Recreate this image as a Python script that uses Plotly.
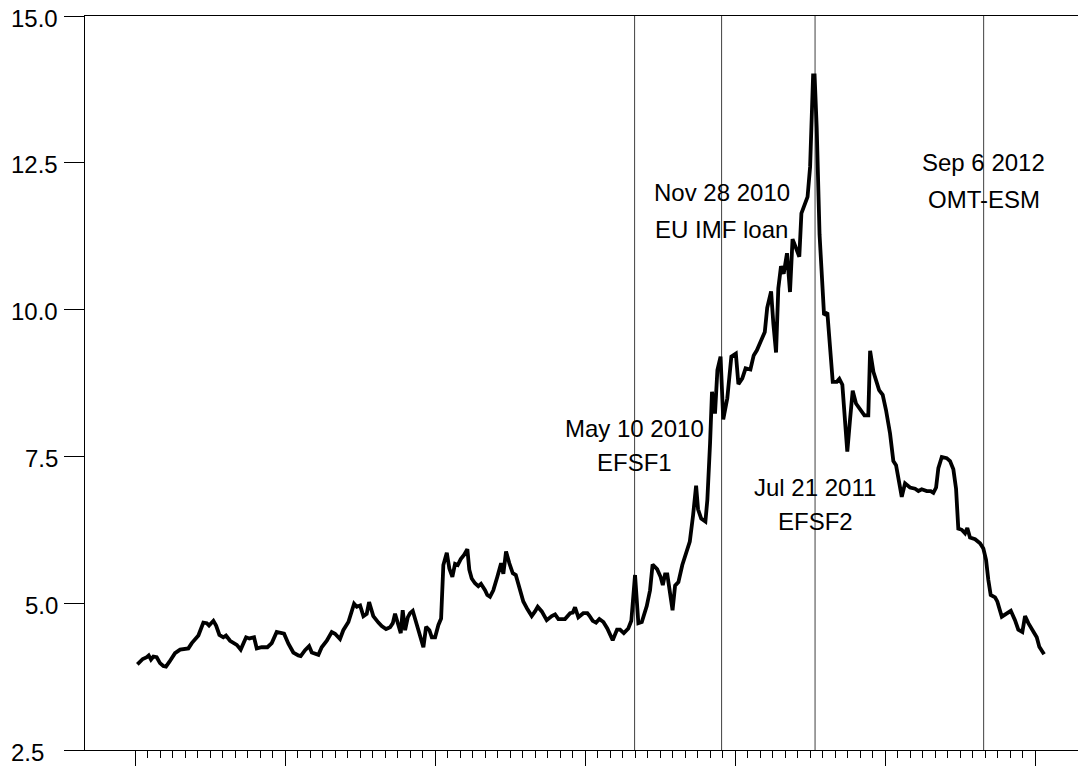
"""
plot.py
Irish 10-year government bond yield with the main euro-area rescue events.
"""

import plotly.graph_objects as go

# ─────────────────────────────────────────
# data (decimal years, yield in %)
# ─────────────────────────────────────────

YEARS = [
    2007.038, 2007.074, 2007.101, 2007.114, 2007.129, 2007.145, 2007.167, 2007.189, 2007.211, 2007.229,
    2007.251, 2007.289, 2007.323, 2007.356, 2007.378, 2007.401, 2007.445, 2007.478, 2007.501, 2007.516,
    2007.545, 2007.563, 2007.585, 2007.611, 2007.629, 2007.656, 2007.701, 2007.727, 2007.763, 2007.785,
    2007.816, 2007.834, 2007.867, 2007.905, 2007.934, 2007.967, 2007.994, 2008.016, 2008.045, 2008.078,
    2008.111, 2008.127, 2008.156, 2008.183, 2008.201, 2008.245, 2008.267, 2008.301, 2008.334, 2008.356,
    2008.389, 2008.411, 2008.445, 2008.483, 2008.501, 2008.523, 2008.545, 2008.567, 2008.583, 2008.611,
    2008.645, 2008.667, 2008.696, 2008.723, 2008.741, 2008.756, 2008.778, 2008.794, 2008.807, 2008.823,
    2008.841, 2008.856, 2008.874, 2008.896, 2008.923, 2008.945, 2008.963, 2008.985, 2009.001, 2009.023,
    2009.045, 2009.063, 2009.078, 2009.101, 2009.118, 2009.138, 2009.156, 2009.174, 2009.194, 2009.216,
    2009.238, 2009.251, 2009.267, 2009.289, 2009.311, 2009.329, 2009.356, 2009.371, 2009.389, 2009.411,
    2009.438, 2009.463, 2009.478, 2009.496, 2009.518, 2009.541, 2009.561, 2009.589, 2009.611, 2009.638,
    2009.667, 2009.689, 2009.707, 2009.734, 2009.767, 2009.801, 2009.823, 2009.845, 2009.889, 2009.923,
    2009.941, 2009.956, 2009.978, 2010.011, 2010.038, 2010.051, 2010.074, 2010.096, 2010.118, 2010.145,
    2010.171, 2010.207, 2010.236, 2010.256, 2010.281, 2010.311, 2010.331, 2010.356, 2010.378, 2010.401,
    2010.434, 2010.456, 2010.473, 2010.503, 2010.526, 2010.541, 2010.556, 2010.571, 2010.589, 2010.606,
    2010.623, 2010.645, 2010.671, 2010.701, 2010.721, 2010.743, 2010.763, 2010.776, 2010.797, 2010.825,
    2010.838, 2010.856, 2010.869, 2010.889, 2010.905, 2010.926, 2010.944, 2010.971, 2010.998, 2011.028,
    2011.045, 2011.071, 2011.093, 2011.125, 2011.147, 2011.169, 2011.201, 2011.221, 2011.237, 2011.263,
    2011.278, 2011.296, 2011.311, 2011.329, 2011.347, 2011.369, 2011.389, 2011.406, 2011.429, 2011.451,
    2011.465, 2011.493, 2011.506, 2011.523, 2011.543, 2011.553, 2011.567, 2011.586, 2011.607, 2011.616,
    2011.638, 2011.656, 2011.674, 2011.701, 2011.718, 2011.738, 2011.751, 2011.771, 2011.789, 2011.807,
    2011.829, 2011.856, 2011.885, 2011.911, 2011.923, 2011.945, 2011.967, 2011.983, 2012.007, 2012.029,
    2012.056, 2012.078, 2012.096, 2012.111, 2012.134, 2012.156, 2012.189, 2012.223, 2012.245, 2012.267,
    2012.301, 2012.327, 2012.345, 2012.363, 2012.378, 2012.401, 2012.434, 2012.456, 2012.478, 2012.496,
    2012.511, 2012.534, 2012.556, 2012.571, 2012.589, 2012.623, 2012.656, 2012.678, 2012.696, 2012.711,
    2012.727, 2012.756, 2012.771, 2012.801, 2012.834, 2012.861, 2012.889, 2012.911, 2012.938, 2012.956,
    2012.978, 2013.007, 2013.034, 2013.051, 2013.083,
]

YIELDS = [
    3.96, 4.05, 4.08, 4.11, 4.04, 4.09, 4.08, 3.98, 3.93, 3.92,
    4.00, 4.15, 4.21, 4.22, 4.23, 4.32, 4.45, 4.67, 4.66, 4.62,
    4.70, 4.62, 4.46, 4.42, 4.45, 4.36, 4.29, 4.21, 4.42, 4.40,
    4.42, 4.23, 4.25, 4.25, 4.32, 4.51, 4.50, 4.48, 4.31, 4.16,
    4.11, 4.10, 4.20, 4.27, 4.16, 4.12, 4.25, 4.36, 4.51, 4.48,
    4.39, 4.54, 4.68, 4.99, 4.94, 4.96, 4.78, 4.82, 5.02, 4.78,
    4.67, 4.61, 4.56, 4.59, 4.66, 4.82, 4.63, 4.49, 4.88, 4.54,
    4.76, 4.83, 4.87, 4.66, 4.40, 4.25, 4.60, 4.54, 4.42, 4.42,
    4.63, 4.74, 5.65, 5.86, 5.59, 5.45, 5.67, 5.65, 5.75, 5.82,
    5.92, 5.57, 5.42, 5.34, 5.29, 5.33, 5.22, 5.14, 5.11, 5.22,
    5.45, 5.68, 5.50, 5.88, 5.68, 5.51, 5.48, 5.20, 5.03, 4.90,
    4.78, 4.86, 4.94, 4.86, 4.71, 4.78, 4.81, 4.73, 4.73, 4.83,
    4.84, 4.93, 4.76, 4.83, 4.83, 4.79, 4.70, 4.67, 4.73, 4.68,
    4.57, 4.37, 4.55, 4.55, 4.49, 4.57, 4.70, 5.48, 4.66, 4.68,
    4.95, 5.22, 5.66, 5.58, 5.45, 5.31, 5.49, 5.49, 5.17, 4.88,
    5.30, 5.36, 5.65, 5.90, 6.05, 6.50, 7.00, 6.60, 6.44, 6.39,
    6.76, 7.72, 8.60, 8.23, 8.97, 9.20, 8.13, 8.49, 9.20, 9.25,
    8.73, 8.83, 9.00, 8.98, 9.22, 9.31, 9.52, 9.62, 10.03, 10.31,
    9.76, 9.27, 10.36, 10.74, 10.61, 10.96, 10.30, 11.20, 11.05, 10.90,
    11.64, 11.86, 11.92, 12.43, 13.99, 13.99, 13.10, 11.28, 10.16, 9.91,
    9.95, 9.37, 8.77, 8.77, 8.82, 8.72, 8.29, 7.58, 8.12, 8.62,
    8.40, 8.29, 8.20, 8.20, 9.30, 8.94, 8.77, 8.63, 8.55, 8.29,
    7.89, 7.42, 7.35, 7.13, 6.81, 7.04, 6.97, 6.95, 6.91, 6.94,
    6.91, 6.91, 6.88, 6.97, 7.30, 7.49, 7.47, 7.42, 7.28, 6.95,
    6.27, 6.25, 6.19, 6.28, 6.12, 6.09, 6.02, 5.93, 5.74, 5.40,
    5.14, 5.10, 5.03, 4.77, 4.83, 4.87, 4.71, 4.55, 4.51, 4.78,
    4.66, 4.54, 4.42, 4.26, 4.13,
]

EVENT_YEARS = [2010.353, 2010.933, 2011.556, 2012.680]
EVENT_DATES = ["May 10 2010", "Nov 28 2010", "Jul 21 2011", "Sep 6 2012"]
EVENT_NAMES = ["EFSF1", "EU IMF loan", "EFSF2", "OMT-ESM"]

Y_TICKS = [2.5, 5.0, 7.5, 10.0, 12.5, 15.0]
# the bottom label sits a bit further left in the original, hence the padding
Y_TICK_TEXT = ["2.5\u00a0\u00a0", "5.0", "7.5", "10.0", "12.5", "15.0"]

# ─────────────────────────────────────────
# layout tokens
# ─────────────────────────────────────────

PALETTE = {
    "line":  "#000000",
    "event": "#404040",
    "axis":  "#000000",
    "bg":    "#FFFFFF",
}

FONT = dict(family="Liberation Sans, Arial, sans-serif", size=24, color="#000000")

X_RANGE = [2006.689, 2013.309]
Y_RANGE = [2.5, 15.0]

# yearly ticks sit a little after new year, monthly minor ticks between them
TICK0 = 2007.024
MAJOR_TICKS = [TICK0 + k for k in range(7)]
MINOR_TICKS = [TICK0 + k / 12 for k in range(73)]

Y_TICKLEN = 20

# height (in % units) of the two text lines next to each event marker
DATE_LABEL_Y = [7.98, 11.99, 6.97, 12.51]
NAME_LABEL_Y = [7.39, 11.37, 6.39, 11.88]


def build_figure() -> go.Figure:
    fig = go.Figure()

    fig.add_trace(go.Scatter(
        x=YEARS, y=YIELDS,
        mode="lines",
        line=dict(color=PALETTE["line"], width=3.8),
        hovertemplate="%{x:.2f}: %{y:.2f}<extra></extra>",
    ))

    # event markers
    for yr, date, name, y_date, y_name in zip(EVENT_YEARS, EVENT_DATES, EVENT_NAMES,
                                              DATE_LABEL_Y, NAME_LABEL_Y):
        fig.add_shape(
            type="line", xref="x", yref="paper",
            x0=yr, x1=yr, y0=0, y1=1,
            line=dict(color=PALETTE["event"], width=1),
            layer="below",
        )
        fig.add_annotation(x=yr, y=y_date, text=date, showarrow=False,
                           xanchor="center", yanchor="middle", font=FONT)
        fig.add_annotation(x=yr, y=y_name, text=name, showarrow=False,
                           xanchor="center", yanchor="middle", font=FONT)

    # y tick labels as text, sitting slightly below their ticks like the original
    for val, txt in zip(Y_TICKS, Y_TICK_TEXT):
        fig.add_annotation(xref="paper", x=0, y=val, text=txt, showarrow=False,
                           xanchor="right", yanchor="middle",
                           xshift=-(Y_TICKLEN + 5), yshift=-2, font=FONT)

    fig.update_layout(
        width=1091, height=767,
        font=FONT,
        plot_bgcolor=PALETTE["bg"],
        paper_bgcolor=PALETTE["bg"],
        showlegend=False,
        margin=dict(l=85, r=13, t=16, b=17, pad=0),
    )
    fig.update_xaxes(
        range=X_RANGE, automargin=False,
        showgrid=False, zeroline=False,
        showline=True, linecolor=PALETTE["axis"], linewidth=1, mirror=True,
        tickmode="array", tickvals=MAJOR_TICKS,
        ticks="outside", ticklen=15, tickwidth=1, tickcolor=PALETTE["axis"],
        showticklabels=False,
        minor=dict(tickmode="array", tickvals=MINOR_TICKS, ticks="outside",
                   ticklen=7, tickwidth=1, tickcolor=PALETTE["axis"], showgrid=False),
    )
    fig.update_yaxes(
        range=Y_RANGE, automargin=False,
        showgrid=False, zeroline=False,
        showline=True, linecolor=PALETTE["axis"], linewidth=1,
        tickmode="array", tickvals=Y_TICKS, showticklabels=False,
        ticks="outside", ticklen=Y_TICKLEN, tickwidth=1, tickcolor=PALETTE["axis"],
    )
    return fig


fig = build_figure()
# drop the browser's default body margin so the figure sits at the page corner
fig.write_html(
    "out.html",
    config={"displayModeBar": False},
    post_script="document.body.style.margin = '0';",
)
